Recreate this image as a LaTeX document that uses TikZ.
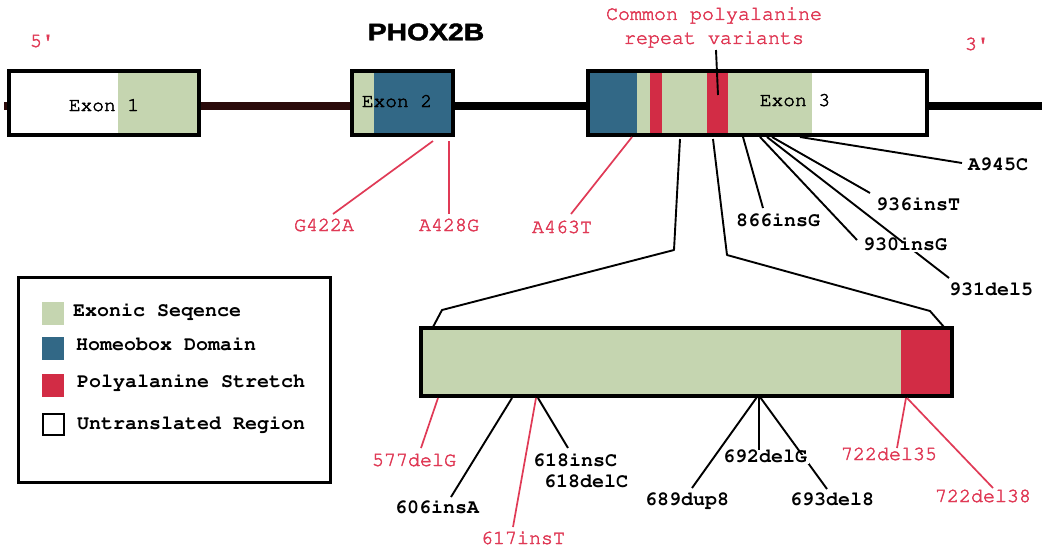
\documentclass[tikz,border=0pt]{standalone}
\usepackage[T1]{fontenc}
\usepackage{fontspec}
\newfontfamily\lsans{Liberation Sans}
\newcommand\cour{\fontencoding{T1}\fontfamily{pcr}\selectfont}
\newcommand\thk[1]{\special{pdf:literal direct 2 Tr 0.45 w}#1\special{pdf:literal direct 0 Tr}}
\newcommand\sq{\textquotesingle}
\definecolor{exgreen}{RGB}{197,213,176}
\definecolor{hbblue}{RGB}{50,104,134}
\definecolor{pared}{RGB}{210,44,69}
\definecolor{lblred}{RGB}{224,58,86}
\definecolor{intron}{RGB}{42,10,10}
\tikzset{
  exonbox/.style={draw=black, line width=4pt, inner sep=0pt},
  conn/.style={draw=black, line width=1.9pt},
  rconn/.style={draw=lblred, line width=1.7pt},
  blbl/.style={font=\cour\bfseries\fontsize{20}{24}\selectfont, text=black, inner sep=1.5pt, text height=0.6em, text depth=0pt},
  rlbl/.style={font=\cour\fontsize{20}{24}\selectfont, text=lblred, inner sep=1.5pt, text height=0.6em, text depth=0pt},
  extext/.style={font=\cour\fontsize{19.5}{22}\selectfont, text=black, inner sep=0pt, text height=0.6em, text depth=0pt},
  legtext/.style={font=\cour\bfseries\fontsize{20}{24}\selectfont, anchor=west, inner sep=0pt, text height=0.6em, text depth=0pt},
  swatch/.style={minimum width=22pt, minimum height=23pt, inner sep=0pt}
}
\begin{document}
\begin{tikzpicture}[x=1pt,y=-1pt]
\useasboundingbox (0,0) rectangle (1042,550);
\fill[white] (0,0) rectangle (1042,550);

% main gene line
\coordinate (lstart) at (4,106);
\coordinate (lend) at (1042,106);
\draw[line width=8pt, intron] (lstart) -- (352,106);
\draw[line width=8pt, black] (452,106) -- (lend);

% Exon 1
\fill[white] (9,71) rectangle (199,135);
\fill[exgreen] (118,71) rectangle (199,135);
\node[exonbox, minimum width=190pt, minimum height=64pt] (ex1) at (104,103) {};
\node[extext] (ex1t) at (104,108) {\thk{Exon 1}};

% Exon 2
\fill[exgreen] (352,71) rectangle (374,135);
\fill[hbblue] (374,71) rectangle (453,135);
\node[exonbox, minimum width=101pt, minimum height=64pt] (ex2) at (402.5,103) {};
\node[extext] (ex2t) at (397,104) {\thk{Exon 2}};

% Exon 3
\fill[white] (588,71) rectangle (927,135);
\fill[hbblue] (588,71) rectangle (637,135);
\fill[exgreen] (637,71) rectangle (650,135);
\fill[pared] (650,71) rectangle (662,135);
\fill[exgreen] (662,71) rectangle (707,135);
\fill[pared] (707,71) rectangle (728,135);
\fill[exgreen] (728,71) rectangle (812,135);
\node[exonbox, minimum width=339pt, minimum height=64pt] (ex3) at (757.5,103) {};
\node[extext] (ex3t) at (795,103) {\thk{Exon 3}};

% titles
\node[font=\lsans\bfseries\fontsize{24}{28}\selectfont, inner sep=0pt] (title) at (426,32) {\thk{\scalebox{1.18}[1]{PHOX2B}}};
\node[rlbl] (five) at (42,44) {\thk{5\sq}};
\node[rlbl] (three) at (977,47) {\thk{3\sq}};
\node[font=\cour\fontsize{20}{24}\selectfont, text=lblred, align=center, inner sep=0pt] (poly) at (714,27) {\thk{Common polyalanine}\\\thk{repeat variants}};

% zoomed region box
\fill[exgreen] (421,328) rectangle (901,396);
\fill[pared] (901,328) rectangle (952,396);
\node[exonbox, minimum width=531pt, minimum height=68pt] (zbox) at (686.5,362) {};

% legend
\node[draw=black, line width=3pt, minimum width=312pt, minimum height=205pt, inner sep=0pt] (legend) at (174,379.5) {};
\node[swatch, fill=exgreen] (sw1) at (53,313.5) {};
\node[swatch, fill=hbblue] (sw2) at (53,348) {};
\node[swatch, fill=pared] (sw3) at (53,385.5) {};
\node[swatch, draw=black, line width=2.5pt, minimum width=21pt, minimum height=21pt] (sw4) at (53.5,424.5) {};
\node[legtext] (lg1) at (73,313) {Exonic Seqence};
\node[legtext] (lg2) at (76,347) {Homeobox Domain};
\node[legtext] (lg3) at (77,384) {Polyalanine Stretch};
\node[legtext] (lg4) at (77,426) {Untranslated Region};

% ---- connector coordinates ----
\coordinate (a422) at (433,141); \coordinate (b422) at (333,214);
\coordinate (a428) at (449,141); \coordinate (b428) at (449,214);
\coordinate (a463) at (632,137); \coordinate (b463) at (571,214);
\coordinate (apoly) at (716,50); \coordinate (bpoly) at (718,95);
\coordinate (a866) at (743,137); \coordinate (b866) at (763,208);
\coordinate (a930) at (760,137); \coordinate (b930) at (857,240);
\coordinate (a931) at (767,137); \coordinate (b931) at (949,278);
\coordinate (a936) at (772,137); \coordinate (b936) at (870,193);
\coordinate (a945) at (800,137); \coordinate (b945) at (962,163);
% brackets
\coordinate (bl1) at (680,139); \coordinate (bl2) at (674,250); \coordinate (bl3) at (442,310); \coordinate (bl4) at (433,327);
\coordinate (br1) at (713,139); \coordinate (br2) at (727,255); \coordinate (br3) at (930,311); \coordinate (br4) at (944,327);
% bottom
\coordinate (a577) at (438,398); \coordinate (b577) at (421,448);
\coordinate (a606) at (512,398); \coordinate (b606) at (451,497);
\coordinate (a617) at (536,398); \coordinate (b617) at (513,527);
\coordinate (a618) at (538,398); \coordinate (b618) at (568,448);
\coordinate (a689) at (757,397); \coordinate (b689) at (692,488);
\coordinate (a692) at (759,397); \coordinate (b692) at (759,450);
\coordinate (a693) at (760,397); \coordinate (b693) at (827,489);
\coordinate (a735) at (906,398); \coordinate (b735) at (897,448);
\coordinate (a738) at (907,398); \coordinate (b738) at (993,488);

% ---- connectors ----
\draw[rconn] (a422) -- (b422);
\draw[rconn] (a428) -- (b428);
\draw[rconn] (a463) -- (b463);
\draw[conn] (apoly) -- (bpoly);
\draw[conn] (a866) -- (b866);
\draw[conn] (a930) -- (b930);
\draw[conn] (a931) -- (b931);
\draw[conn] (a936) -- (b936);
\draw[conn] (a945) -- (b945);
\draw[conn, line join=round] (bl1) -- (bl2) -- (bl3) -- (bl4);
\draw[conn, line join=round] (br1) -- (br2) -- (br3) -- (br4);
\draw[rconn] (a577) -- (b577);
\draw[conn] (a606) -- (b606);
\draw[rconn] (a617) -- (b617);
\draw[conn] (a618) -- (b618);
\draw[conn] (a689) -- (b689);
\draw[conn] (a692) -- (b692);
\draw[conn] (a693) -- (b693);
\draw[rconn] (a735) -- (b735);
\draw[rconn] (a738) -- (b738);

% ---- labels ----
\node[rlbl] (l422) at (324,228) {\thk{G422A}};
\node[rlbl] (l428) at (449,228) {\thk{A428G}};
\node[rlbl] (l463) at (562,230) {\thk{A463T}};
\node[blbl] (l866) at (778,223) {866insG};
\node[blbl, fill=white] (l930) at (905,247) {930insG};
\node[blbl] (l931) at (991,292) {931del5};
\node[blbl] (l936) at (918,207) {936insT};
\node[blbl] (l945) at (998,167) {A945C};
\node[rlbl] (l577) at (414,463) {\thk{577delG}};
\node[blbl] (l606) at (437,510) {606insA};
\node[rlbl] (l617) at (523,541) {\thk{617insT}};
\node[blbl] (l618a) at (575,463) {618insC};
\node[blbl] (l618b) at (586,484) {618delC};
\node[blbl] (l689) at (687,502) {689dup8};
\node[blbl, fill=white] (l692) at (765,459) {692delG};
\node[blbl] (l693) at (832,502) {693del8};
\node[rlbl] (l735) at (889,457) {\thk{722del35}};
\node[rlbl] (l738) at (983,499) {\thk{722del38}};
\end{tikzpicture}
\end{document}
